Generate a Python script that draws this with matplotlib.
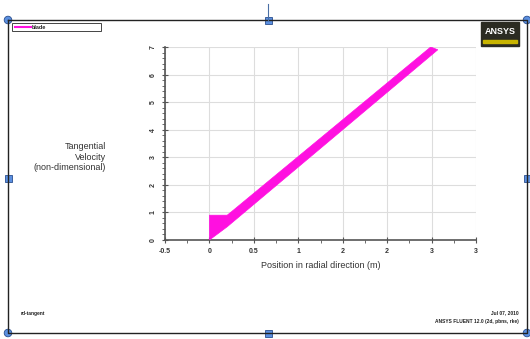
import matplotlib.pyplot as plt
from matplotlib.patches import Rectangle, Circle
from matplotlib.ticker import MultipleLocator

plt.rcParams['font.family'] = ['Liberation Sans', 'DejaVu Sans']

# band of tangential velocity values (lower and upper edge of the scatter)
lower_x = [0.0, 0.2, 2.57]
lower_y = [0.0, 0.48, 6.9]
upper_x = [0.0, 0.2, 0.25, 2.49]
upper_y = [0.9, 0.9, 1.03, 7.0]

xticks = [-0.5, 0, 0.5, 1, 1.5, 2, 2.5, 3]
xtick_labels = ['-0.5', '0', '0.5', '1', '2', '2', '3', '3']
yticks = [0, 1, 2, 3, 4, 5, 6, 7]
ytick_labels = ['0', '1', '2', '3', '4', '5', '6', '7']

series_name = 'blade'
band_color = '#ff10e0'

fig = plt.figure(figsize=(5.3, 3.39), dpi=100)
W, H = 530, 339

ax = fig.add_axes([165 / W, 1 - 240 / H, (476 - 165) / W, (240 - 47) / H])
poly_x = lower_x + upper_x[::-1]
poly_y = lower_y + upper_y[::-1]
ax.fill(poly_x, poly_y, color=band_color, lw=0.5, ec=band_color, zorder=3)

ax.set_xlim(-0.5, 3)
ax.set_ylim(0, 7)
ax.set_xticks(xticks)
ax.set_xticklabels(xtick_labels, fontsize=5, fontweight='bold', color='#333333')
ax.set_yticks(yticks)
ax.set_yticklabels(ytick_labels, fontsize=5, fontweight='bold', color='#333333',
                   rotation=90, va='center')
ax.xaxis.set_minor_locator(MultipleLocator(0.25))
ax.yaxis.set_minor_locator(MultipleLocator(0.2))
ax.tick_params(which='major', direction='inout', length=4, width=0.8, color='#555555', pad=4)
ax.tick_params(which='minor', direction='out', length=2, width=0.6, color='#555555')
ax.grid(True, color='#dddddd', lw=0.8)
ax.set_axisbelow(True)
for s in ['top', 'right']:
    ax.spines[s].set_visible(False)
for s in ['left', 'bottom']:
    ax.spines[s].set_color('#555555')
    ax.spines[s].set_linewidth(1.2)
ax.set_xlabel('Position in radial direction (m)', fontsize=6.5, color='#333333', labelpad=4)

# overlay in pixel coords for frame, labels, handles
ov = fig.add_axes([0, 0, 1, 1], zorder=5)
ov.set_xlim(0, W)
ov.set_ylim(H, 0)
ov.axis('off')
ov.patch.set_alpha(0)

ov.plot([8, 527, 527, 8, 8], [20, 20, 333, 333, 20], color='#222222', lw=1.0)
ov.plot([268, 268], [4, 20], color='#4a6fa5', lw=0.8)

ov.text(106, 157, 'Tangential\nVelocity\n(non-dimensional)', ha='right', va='center',
        fontsize=6.5, color='#333333', linespacing=1.25)

# legend box
ov.add_patch(Rectangle((12, 23), 89, 8, fill=False, ec='#444444', lw=0.7))
ov.plot([15, 31], [27, 27], color=band_color, lw=1.5)
ov.text(32, 27.3, series_name, fontsize=4, va='center', color='#222222', fontweight='bold')

# logo
ov.add_patch(Rectangle((481, 22), 38, 24, color='#2b2b22'))
ov.text(500, 32, 'ANSYS', color='white', fontsize=6.5, fontweight='bold', ha='center', va='center')
ov.add_patch(Rectangle((483, 40), 34, 3, color='#c8b400'))

ov.text(21, 314, 'rd-tangent', fontsize=3.5, va='center', color='#222222', fontweight='bold')
ov.text(519, 313, 'Jul 07, 2010', fontsize=3.5, ha='right', va='center', color='#222222',
        fontweight='bold')
ov.text(519, 321, 'ANSYS FLUENT 12.0 (2d, pbns, rke)', fontsize=3.5, ha='right', va='center',
        color='#222222', fontweight='bold')

# selection handles
for hx, hy in [(268, 20), (8, 178), (527, 178), (268, 333)]:
    ov.add_patch(Rectangle((hx - 3.5, hy - 3.5), 7, 7, fc='#5b8fe0', ec='#2a4f8f', lw=0.6))
for hx, hy in [(8, 20), (527, 20), (8, 333), (527, 333)]:
    ov.add_patch(Circle((hx, hy), 3.8, fc='#5b8fe0', ec='#2a4f8f', lw=0.6))

fig.savefig('out.png', dpi=100)
